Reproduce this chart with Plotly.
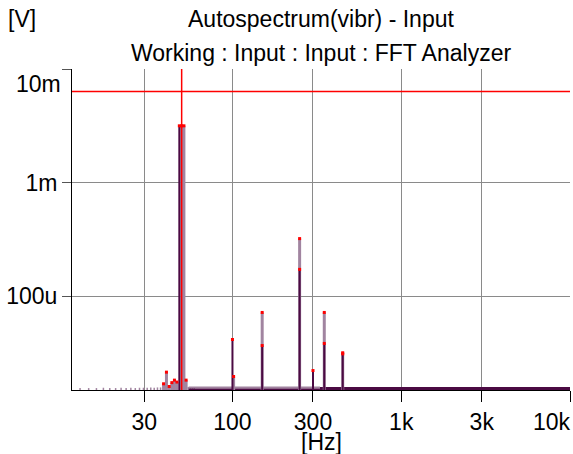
import math
import plotly.graph_objects as go

# ---------------- data ----------------
# current spectrum (dark purple lines)
cur_freq = [48.44, 100.0, 150.0, 250.0, 300.0, 350.0, 450.0]
cur_val = [3.16e-3, 4.15e-5, 3.67e-5, 1.72e-4, 2.21e-5, 3.83e-5, 3.10e-5]

# max-hold spectrum (light mauve lines)
max_freq = [39.06, 40.63, 42.19, 43.75, 45.31, 46.88, 50.0, 51.56, 53.13,
            101.56, 150.0, 250.0, 350.0, 450.0]
max_val = [1.69e-5, 2.14e-5, 1.60e-5, 1.73e-5, 1.82e-5, 1.75e-5, 3.16e-3, 3.16e-3, 1.82e-5,
           1.96e-5, 7.18e-5, 3.21e-4, 7.18e-5, 3.17e-5]

# low-frequency floor lines (individually visible bins)
floor_freq = [12.50, 14.06, 15.63, 17.19, 18.75, 20.31, 21.88, 23.44, 25.00, 26.56,
              28.13, 29.69, 31.25, 32.81, 34.38, 35.94, 37.50, 54.69, 56.25, 57.81, 59.38]
floor_val = [1.55e-5, 1.55e-5, 1.55e-5, 1.56e-5, 1.55e-5, 1.55e-5, 1.56e-5, 1.55e-5, 1.56e-5, 1.55e-5,
             1.56e-5, 1.56e-5, 1.56e-5, 1.57e-5, 1.56e-5, 1.57e-5, 1.57e-5, 1.58e-5, 1.57e-5, 1.58e-5, 1.58e-5]

# dense noise floor (bins merge into a band)
band_light_freq = [55.0, 330.0]
band_light_val = [1.565e-5, 1.565e-5]
band_low_dark_freq = [55.0, 330.0]
band_low_dark_val = [1.51e-5, 1.51e-5]
band_high_dark_freq = [330.0, 10000.0]
band_high_dark_val = [1.535e-5, 1.535e-5]

# cursor
cursor_freq = 50.0
cursor_level = 6.35e-3

# axes
x_range_hz = [11.2, 10000.0]
y_range_v = [1.49e-5, 1.0e-2]
x_tick_vals = [30, 100, 300, 1000, 3000, 10000]
x_tick_text = ["30", "100", "300", "1k", "3k", "10k"]
y_tick_vals = [1e-4, 1e-3, 1e-2]
y_tick_text = ["100u", "1m", "10m"]

title_1 = "Autospectrum(vibr) - Input"
title_2 = "Working : Input : Input : FFT Analyzer"
y_unit = "[V]"
x_unit = "[Hz]"

DARK = "#4b0a43"
LIGHT = "#a184a0"
RED = "#ff0000"
FONT = "Liberation Sans, Arial, sans-serif"
FS = 23


def stems(freqs, vals, base):
    xs, ys = [], []
    for f, v in zip(freqs, vals):
        xs += [f, f, None]
        ys += [base, v, None]
    return xs, ys


def line_trace(x, y, color, width):
    return go.Scatter(x=x, y=y, mode="lines", line=dict(color=color, width=width),
                      hoverinfo="skip", showlegend=False)


base = y_range_v[0]
fig = go.Figure()

fx, fy = stems(floor_freq, floor_val, base)
fig.add_trace(line_trace(fx, fy, LIGHT, 1.5))
fig.add_trace(line_trace(band_light_freq, band_light_val, LIGHT, 2))
fig.add_trace(line_trace(band_low_dark_freq, band_low_dark_val, DARK, 1.5))
fig.add_trace(line_trace(band_high_dark_freq, band_high_dark_val, DARK, 3))

mx, my = stems(max_freq, max_val, base)
fig.add_trace(line_trace(mx, my, LIGHT, 3))
cx, cy = stems(cur_freq, cur_val, base)
fig.add_trace(line_trace(cx, cy, DARK, 2))
fig.add_trace(go.Scatter(x=max_freq + cur_freq, y=max_val + cur_val, mode="markers",
                         marker=dict(color=RED, size=3, symbol="square", line=dict(width=0)),
                         hoverinfo="skip", showlegend=False))

# cursor lines
fig.add_trace(line_trace([cursor_freq, cursor_freq], y_range_v, RED, 1.5))
fig.add_trace(line_trace(x_range_hz, [cursor_level, cursor_level], RED, 1.5))

fig.update_layout(
    width=573, height=454,
    margin=dict(l=72, r=3, t=69, b=64),
    paper_bgcolor="white", plot_bgcolor="white",
    font=dict(family=FONT, size=FS, color="black"),
    showlegend=False,
    xaxis=dict(
        type="log",
        range=[math.log10(x_range_hz[0]), math.log10(x_range_hz[1])],
        tickvals=x_tick_vals,
        ticktext=x_tick_text[:-1] + [""],
        ticks="outside", ticklen=11, tickcolor="black", tickwidth=1,
        showline=True, linecolor="black", linewidth=1,
        showgrid=True, gridcolor="#8a8a8a", gridwidth=1,
        zeroline=False,
        tickfont=dict(size=FS),
    ),
    yaxis=dict(
        type="log",
        range=[math.log10(y_range_v[0]), math.log10(y_range_v[1])],
        tickvals=y_tick_vals,
        ticktext=y_tick_text[:-1] + [""],
        ticks="outside", ticklen=9, tickcolor="#555555", tickwidth=1,
        showline=True, linecolor="black", linewidth=1,
        showgrid=True, gridcolor="#8a8a8a", gridwidth=1,
        zeroline=False,
        tickfont=dict(size=FS),
    ),
    annotations=[
        dict(text=title_1, xref="paper", yref="paper", x=0.5, y=1, xanchor="center",
             yanchor="middle", yshift=50, showarrow=False, font=dict(size=FS)),
        dict(text=title_2, xref="paper", yref="paper", x=0.5, y=1, xanchor="center",
             yanchor="middle", yshift=16, showarrow=False, font=dict(size=FS)),
        dict(text=y_unit, xref="paper", yref="paper", x=0, y=1, xanchor="center",
             yanchor="middle", xshift=-50, yshift=50, showarrow=False, font=dict(size=FS)),
        dict(text=x_unit, xref="paper", yref="paper", x=0.5, y=0, xanchor="center",
             yanchor="middle", yshift=-52, showarrow=False, font=dict(size=FS)),
        dict(text=y_tick_text[-1], xref="paper", yref="y", x=0, y=math.log10(y_tick_vals[-1]),
             xanchor="right", yanchor="middle", xshift=-9, yshift=-15, showarrow=False,
             font=dict(size=FS)),
        dict(text=x_tick_text[-1], xref="paper", yref="paper", x=1, y=0, xanchor="right",
             yanchor="middle", xshift=3, yshift=-32, showarrow=False, font=dict(size=FS)),
    ],
)

fig.write_html("out.html", config={"displayModeBar": False},
               post_script="document.body.style.margin='0';")
